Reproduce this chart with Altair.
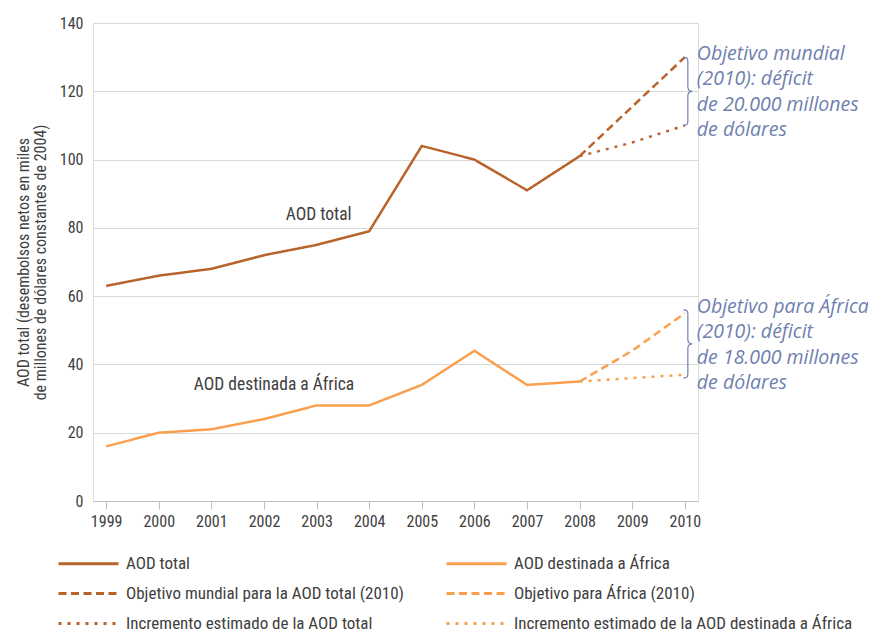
import altair as alt
import pandas as pd

years = ["1999", "2000", "2001", "2002", "2003", "2004", "2005", "2006", "2007", "2008", "2009", "2010"]

total_years = years[:10]
total_vals = [63, 66, 68, 72, 75, 79, 104, 100, 91, 101]
africa_vals = [16, 20, 21, 24, 28, 28, 34, 44, 34, 35]

proj_years = ["2008", "2009", "2010"]
total_target = [101, 115.5, 130]
total_est = [101, 105, 110]
africa_target = [35, 44, 55]
africa_est = [35, 36, 37]

# legend order (column by column): left column, then right column
series_names = [
    "AOD total",
    "Objetivo mundial para la AOD total (2010)",
    "Incremento estimado de la AOD total",
    "AOD destinada a África",
    "Objetivo para África (2010)",
    "Incremento estimado de la AOD destinada a África",
]
series_colors = ["#B9632C", "#B9632C", "#B9632C", "#F9A04E", "#F9A04E", "#F9A04E"]
series_dash = [[1, 0], [8, 4.5], [3, 6], [1, 0], [8, 4.5], [3, 6]]

rows = []
for name, xs, vs in [
    (series_names[0], total_years, total_vals),
    (series_names[3], total_years, africa_vals),
    (series_names[1], proj_years, total_target),
    (series_names[4], proj_years, africa_target),
    (series_names[2], proj_years, total_est),
    (series_names[5], proj_years, africa_est),
]:
    for x, v in zip(xs, vs):
        rows.append({"year": x, "value": v, "serie": name})
df = pd.DataFrame(rows)

# inline labels
label_texts = ["AOD total", "AOD destinada a África"]
label_years = ["2003", "2002"]
label_vals = [83.8, 34]
labels_df = pd.DataFrame({"year": label_years, "value": label_vals, "text": label_texts})

# right annotations
note_lines = [
    ["Objetivo mundial", "(2010): déficit", "de 20.000 millones", "de dólares"],
    ["Objetivo para África", "(2010): déficit", "de 18.000 millones", "de dólares"],
]
note_vals = [129.2, 55.2]
brace_vals = [120, 46]
notes_df = pd.DataFrame({"year": ["2010", "2010"], "value": note_vals, "text": note_lines})
brace_df = pd.DataFrame({"year": ["2010", "2010"], "value": brace_vals})

FONT = "Roboto Condensed, Liberation Sans Narrow, DejaVu Sans Condensed, Roboto, sans-serif"
GRAY = "#404040"
NOTE = "#6F7FB0"
BRACE = ("M-0.13,-1 C-0.02,-1 0,-0.97 0,-0.88 L0,-0.14 C0,-0.05 0.04,0 0.13,0 "
         "C0.04,0 0,0.05 0,0.14 L0,0.88 C0,0.97 -0.02,1 -0.13,1")

x_enc = alt.X("year:O", scale=alt.Scale(type="point", domain=years, padding=0.25),
              axis=alt.Axis(title=None, labelAngle=0, domainColor="#BFBFBF", tickColor="#BFBFBF",
                            tickSize=8, labelPadding=4, labelFontSize=16, labelColor=GRAY,
                            labelFont=FONT, grid=False))
y_enc = alt.Y("value:Q", scale=alt.Scale(domain=[0, 140]),
              axis=alt.Axis(values=list(range(0, 141, 20)), title=[
                  "AOD total (desembolsos netos en miles",
                  "de millones de dólares constantes de 2004)"],
                  titleFont=FONT, titleFontSize=16, titleFontWeight="normal", titleColor=GRAY,
                  titlePadding=11, titleLineHeight=17, labelFont=FONT, labelFontSize=16,
                  labelColor=GRAY, labelPadding=10, tickSize=0, domain=False, gridColor="#D9D9D9"))

lines = alt.Chart(df).mark_line(strokeWidth=2.5).encode(
    x=x_enc,
    y=y_enc,
    color=alt.Color("serie:N", scale=alt.Scale(domain=series_names, range=series_colors),
                    legend=alt.Legend(title=None, orient="none", legendX=-36, legendY=524,
                                      columns=2, columnPadding=35, rowPadding=5,
                                      symbolType="M-1,0H3", symbolSize=900, symbolStrokeWidth=3,
                                      labelOffset=36, labelFont=FONT, labelFontSize=17,
                                      labelColor=GRAY, labelLimit=500)),
    strokeDash=alt.StrokeDash("serie:N", scale=alt.Scale(domain=series_names, range=series_dash)),
    detail="serie:N",
)

inline_a = alt.Chart(labels_df).transform_filter(alt.datum.year == "2003").mark_text(
    font=FONT, fontSize=17.5, color=GRAY, align="center", dx=2).encode(
    x=alt.X("year:O"), y=alt.Y("value:Q"), text="text:N")
inline_b = alt.Chart(labels_df).transform_filter(alt.datum.year == "2002").mark_text(
    font=FONT, fontSize=17.5, color=GRAY, align="center", dx=10).encode(
    x=alt.X("year:O"), y=alt.Y("value:Q"), text="text:N")

notes = alt.Chart(notes_df).mark_text(font="Open Sans, Lato, sans-serif", fontStyle="italic",
                                      fontSize=19.5, color=NOTE, align="left",
                                      baseline="alphabetic", dx=12, lineHeight=25.5).encode(
    x=alt.X("year:O"), y=alt.Y("value:Q"), text="text")

braces = alt.Chart(brace_df).mark_point(shape=BRACE, size=4624, filled=False, stroke=NOTE,
                                        strokeWidth=1.2, opacity=1, xOffset=3).encode(
    x=alt.X("year:O"), y=alt.Y("value:Q"))

chart = alt.layer(lines, inline_a, inline_b, notes, braces).properties(
    width=605, height=478, autosize="none",
    padding={"left": 85, "top": 15, "right": 170, "bottom": 135}
).configure_view(stroke=None).configure(font=FONT)

chart.save("out.html", embed_options={"renderer": "svg", "actions": False})
